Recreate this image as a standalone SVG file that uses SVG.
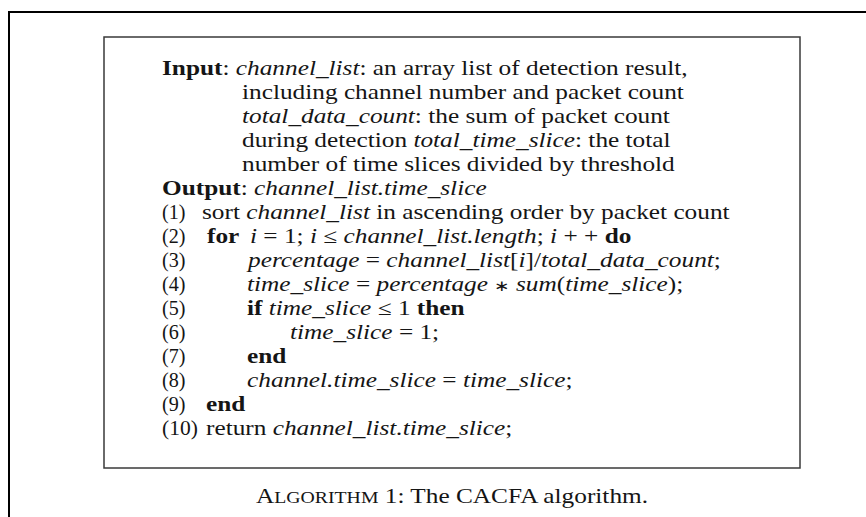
<svg xmlns="http://www.w3.org/2000/svg" width="866" height="517" viewBox="0 0 866 517">
  <style>
    .t { font-family: "Liberation Serif", "Times New Roman", serif; font-size: 20.5px; fill: #151515; }
    .b { font-weight: bold; }
    .i { font-style: italic; }
    .sc { font-size: 16px; }
    .op { font-size: 15px; }
  </style>
  <rect width="866" height="517" fill="#ffffff"/>

  <!-- page frame -->
  <path d="M9 517 V12 H866" fill="none" stroke="#000" stroke-width="2"/>

  <!-- algorithm box -->
  <g id="algorithm-box">
    <rect x="104" y="37" width="696" height="431" fill="#ffffff" stroke="#3a3a3a" stroke-width="1.5"/>
  </g>

  <!-- header: input / output -->
  <g id="header" class="t">
    <text transform="matrix(1.235 0 0 1 162 75)"><tspan class="b">Input</tspan>: <tspan class="i">channel_list</tspan>: an array list of detection result,</text>
    <text transform="matrix(1.235 0 0 1 242 99)">including channel number and packet count</text>
    <text transform="matrix(1.235 0 0 1 242 123)"><tspan class="i">total_data_count</tspan>: the sum of packet count</text>
    <text transform="matrix(1.235 0 0 1 242 147)">during detection <tspan class="i">total_time_slice</tspan>: the total</text>
    <text transform="matrix(1.235 0 0 1 242 171)">number of time slices divided by threshold</text>
    <text transform="matrix(1.235 0 0 1 162 195)"><tspan class="b">Output</tspan>: <tspan class="i">channel_list.time_slice</tspan></text>
  </g>

  <!-- line numbers -->
  <g id="line-numbers" class="t">
    <text transform="matrix(1.235 0 0 1 162 219)" textLength="19" lengthAdjust="spacingAndGlyphs">(1)</text>
    <text transform="matrix(1.235 0 0 1 162 243)" textLength="19" lengthAdjust="spacingAndGlyphs">(2)</text>
    <text transform="matrix(1.235 0 0 1 162 267)" textLength="19" lengthAdjust="spacingAndGlyphs">(3)</text>
    <text transform="matrix(1.235 0 0 1 162 291)" textLength="19" lengthAdjust="spacingAndGlyphs">(4)</text>
    <text transform="matrix(1.235 0 0 1 162 315)" textLength="19" lengthAdjust="spacingAndGlyphs">(5)</text>
    <text transform="matrix(1.235 0 0 1 162 339)" textLength="19" lengthAdjust="spacingAndGlyphs">(6)</text>
    <text transform="matrix(1.235 0 0 1 162 363)" textLength="19" lengthAdjust="spacingAndGlyphs">(7)</text>
    <text transform="matrix(1.235 0 0 1 162 387)" textLength="19" lengthAdjust="spacingAndGlyphs">(8)</text>
    <text transform="matrix(1.235 0 0 1 162 411)" textLength="19" lengthAdjust="spacingAndGlyphs">(9)</text>
    <text transform="matrix(1.235 0 0 1 162 435)" textLength="29" lengthAdjust="spacingAndGlyphs">(10)</text>
  </g>

  <!-- algorithm body -->
  <g id="body" class="t">
    <text transform="matrix(1.235 0 0 1 202 219)">sort <tspan class="i">channel_list</tspan> in ascending order by packet count</text>
    <text transform="matrix(1.235 0 0 1 207 243)"><tspan class="b">for</tspan></text>
    <text transform="matrix(1.235 0 0 1 250 243)"><tspan class="i">i</tspan> = 1; <tspan class="i">i</tspan> ≤ <tspan class="i">channel_list.length</tspan>; <tspan class="i">i</tspan> + + <tspan class="b">do</tspan></text>
    <text transform="matrix(1.235 0 0 1 248 267)"><tspan class="i">percentage</tspan> = <tspan class="i">channel_list</tspan>[<tspan class="i">i</tspan>]/<tspan class="i">total_data_count</tspan>;</text>
    <text transform="matrix(1.235 0 0 1 247 291)"><tspan class="i">time_slice</tspan> = <tspan class="i">percentage</tspan> <tspan class="op">∗</tspan> <tspan class="i">sum</tspan>(<tspan class="i">time_slice</tspan>);</text>
    <text transform="matrix(1.235 0 0 1 247 315)"><tspan class="b">if</tspan> <tspan class="i">time_slice</tspan> ≤ 1 <tspan class="b">then</tspan></text>
    <text transform="matrix(1.235 0 0 1 290 339)"><tspan class="i">time_slice</tspan> = 1;</text>
    <text transform="matrix(1.235 0 0 1 247 363)"><tspan class="b">end</tspan></text>
    <text transform="matrix(1.235 0 0 1 247 387)"><tspan class="i">channel.time_slice</tspan> = <tspan class="i">time_slice</tspan>;</text>
    <text transform="matrix(1.235 0 0 1 206 411)"><tspan class="b">end</tspan></text>
    <text transform="matrix(1.235 0 0 1 206 435)">return <tspan class="i">channel_list.time_slice</tspan>;</text>
  </g>

  <!-- caption -->
  <g id="caption" class="t">
    <text transform="matrix(1.235 0 0 1 452 503)" text-anchor="middle">A<tspan class="sc">LGORITHM</tspan> 1: The CACFA algorithm.</text>
  </g>
</svg>
